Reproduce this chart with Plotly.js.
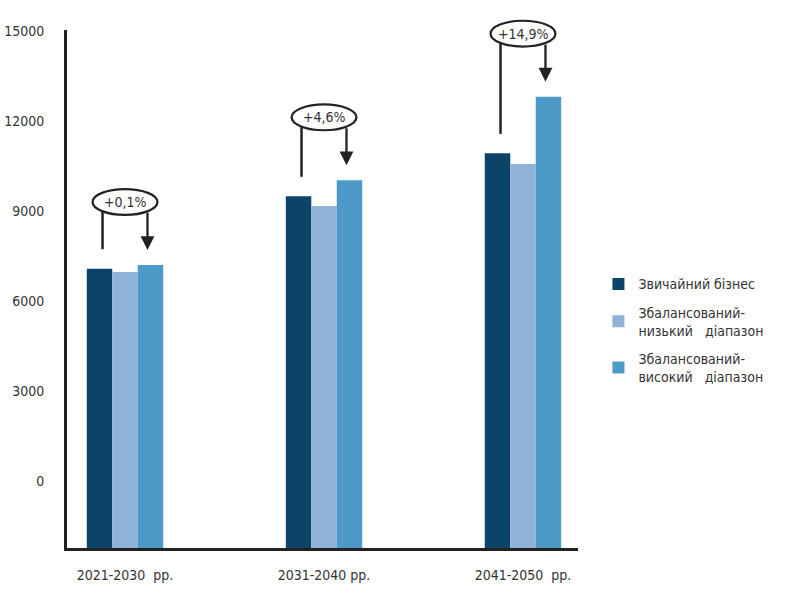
<!DOCTYPE html>
<html>
<head>
<meta charset="utf-8">
<script src="https://cdn.plot.ly/plotly-3.0.1.min.js"></script>
<style>html,body{margin:0;padding:0;background:#fff;}#chart{width:805px;height:599px;}</style>
</head>
<body>
<div id="chart"></div>
<script>
// ---- data ----
var categories = ['2021-2030  рр.', '2031-2040 рр.', '2041-2050  рр.'];
var seriesNames = ['Звичайний бізнес', 'Збалансований-<br>низький   діапазон', 'Збалансований-<br>високий   діапазон'];
var businessAsUsual = [7077, 9490, 10922];
var balancedLow = [6967, 9167, 10567];
var balancedHigh = [7200, 10022, 12811];
var changeLabels = ['+0,1%', '+4,6%', '+14,9%'];
var yTickVals = [0, 3000, 6000, 9000, 12000, 15000];
var yTickText = ['0', '3000', '6000', '9000', '12000', '15000'];

// ---- layout constants ----
var Y_MIN = -2233, Y_MAX = 15033;
var colors = ['#0b4468', '#8fb3d8', '#4d9ac8'];
var FONT = '"Liberation Sans Narrow", "DejaVu Sans Condensed", "Arial Narrow", sans-serif';
var INK = '#222';
var TXT = '#333';

function paperY(v) { return (v - Y_MIN) / (Y_MAX - Y_MIN); }

var xIdx = categories.map(function (c, i) { return i; });
var seriesVals = [businessAsUsual, balancedLow, balancedHigh];

var traces = seriesVals.map(function (vals, s) {
  return {
    type: 'bar',
    name: seriesNames[s],
    legendgroup: 'g' + s,
    x: xIdx,
    y: vals.map(function (v) { return v - Y_MIN; }),
    base: Y_MIN,
    marker: { color: colors[s] },
    hoverinfo: 'skip'
  };
});

var shapes = [], annotations = [];
var EW = 0.163, EH = 430, DX = 0.113;
var edgeDy = EH * Math.sqrt(1 - (DX / EW) * (DX / EW));
xIdx.forEach(function (i) {
  var c = Math.max(businessAsUsual[i], balancedLow[i], balancedHigh[i]) + 2100;
  shapes.push({ type: 'circle', xref: 'x', yref: 'paper', x0: i - EW, x1: i + EW,
    y0: paperY(c - EH), y1: paperY(c + EH),
    line: { color: INK, width: 2.2 }, fillcolor: 'rgba(0,0,0,0)' });
  shapes.push({ type: 'line', xref: 'x', yref: 'y', x0: i - DX, x1: i - DX,
    y0: businessAsUsual[i] + 650, y1: c - edgeDy, line: { color: INK, width: 2.5 } });
  annotations.push({ xref: 'x', yref: 'y', axref: 'x', ayref: 'y', x: i + DX, y: balancedHigh[i] + 500,
    ax: i + DX, ay: c - edgeDy, text: '', showarrow: true, arrowhead: 2, arrowsize: 1.2,
    arrowwidth: 2.3, arrowcolor: INK });
  annotations.push({ xref: 'x', yref: 'y', x: i, y: c, text: changeLabels[i], showarrow: false,
    font: { family: FONT, size: 14, color: TXT } });
});

var layout = {
  width: 805, height: 599,
  margin: { l: 67, r: 227, t: 30, b: 51 },
  paper_bgcolor: '#fff', plot_bgcolor: '#fff',
  barmode: 'group', bargap: 0.616, bargroupgap: 0,
  showlegend: true,
  legend: { x: 1.04, xanchor: 'left', y: 0.54, yanchor: 'top',
    font: { family: FONT, size: 14, color: TXT }, tracegroupgap: 7 },
  xaxis: {
    range: [-0.2915, 2.2764], tickmode: 'array', tickvals: xIdx, ticktext: categories,
    showgrid: false, zeroline: false, showline: true, linecolor: INK, linewidth: 3,
    ticks: 'outside', ticklen: 12, tickcolor: 'rgba(0,0,0,0)',
    tickfont: { family: FONT, size: 14, color: TXT }, fixedrange: true
  },
  yaxis: {
    range: [Y_MIN, Y_MAX], tickmode: 'array', tickvals: yTickVals, ticktext: yTickText,
    showgrid: false, zeroline: false, showline: true, linecolor: INK, linewidth: 3,
    ticks: 'outside', ticklen: 17, tickcolor: 'rgba(0,0,0,0)',
    tickfont: { family: FONT, size: 14, color: TXT }, fixedrange: true
  },
  shapes: shapes,
  annotations: annotations
};

Plotly.newPlot('chart', traces, layout, { displayModeBar: false, staticPlot: true });
</script>
</body>
</html>
